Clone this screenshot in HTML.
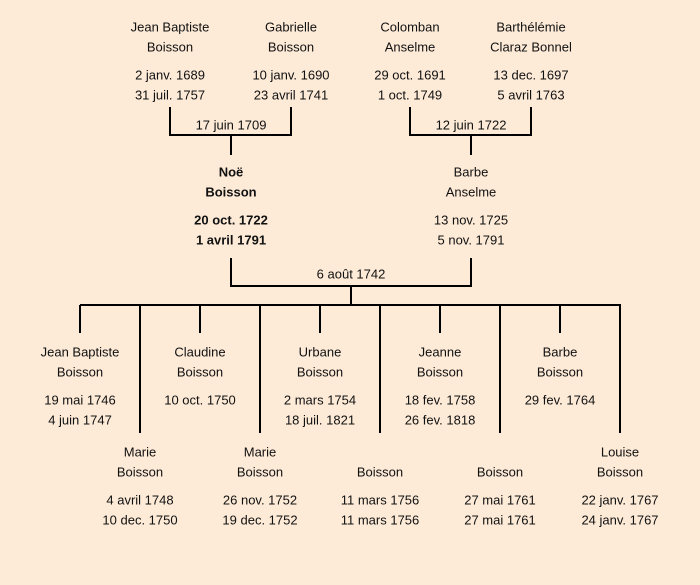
<!DOCTYPE html>
<html><head><meta charset="utf-8"><style>
html,body{margin:0;padding:0;background:#fdebd8;}
svg{display:block}
text{font-family:"Comic Sans MS","Liberation Sans",sans-serif;font-size:13px;fill:#111;text-anchor:middle;dominant-baseline:central}
.b{font-weight:bold}
</style></head><body>
<svg width="700" height="585" viewBox="0 0 700 585">
<rect width="700" height="585" fill="#fdebd8"/>
<g stroke="#000" stroke-width="2" fill="none">
<path d="M170 107V135H291V107M231 135V155"/>
<path d="M410 107V135H531V107M471 135V155"/>
<path d="M231 258V286H471V258M351 286V305"/>
<path d="M80 305H621"/>
<path d="M80 305V333M200 305V333M320 305V333M440 305V333M560 305V333"/>
<path d="M140 305V433M260 305V433M380 305V433M500 305V433M620 305V433"/>
</g>
<text x="170" y="27">Jean Baptiste</text><text x="170" y="47">Boisson</text><text x="170" y="75">2 janv. 1689</text><text x="170" y="95">31 juil. 1757</text>
<text x="291" y="27">Gabrielle</text><text x="291" y="47">Boisson</text><text x="291" y="75">10 janv. 1690</text><text x="291" y="95">23 avril 1741</text>
<text x="410" y="27">Colomban</text><text x="410" y="47">Anselme</text><text x="410" y="75">29 oct. 1691</text><text x="410" y="95">1 oct. 1749</text>
<text x="531" y="27">Barthélémie</text><text x="531" y="47">Claraz Bonnel</text><text x="531" y="75">13 dec. 1697</text><text x="531" y="95">5 avril 1763</text>
<text x="231" y="125">17 juin 1709</text><text x="471" y="125">12 juin 1722</text>
<text class="b" x="231" y="172">Noë</text><text class="b" x="231" y="192">Boisson</text><text class="b" x="231" y="220">20 oct. 1722</text><text class="b" x="231" y="240">1 avril 1791</text>
<text x="471" y="172">Barbe</text><text x="471" y="192">Anselme</text><text x="471" y="220">13 nov. 1725</text><text x="471" y="240">5 nov. 1791</text>
<text x="351" y="274">6 août 1742</text>
<text x="80" y="352">Jean Baptiste</text><text x="80" y="372">Boisson</text><text x="80" y="400">19 mai 1746</text><text x="80" y="420">4 juin 1747</text>
<text x="200" y="352">Claudine</text><text x="200" y="372">Boisson</text><text x="200" y="400">10 oct. 1750</text>
<text x="320" y="352">Urbane</text><text x="320" y="372">Boisson</text><text x="320" y="400">2 mars 1754</text><text x="320" y="420">18 juil. 1821</text>
<text x="440" y="352">Jeanne</text><text x="440" y="372">Boisson</text><text x="440" y="400">18 fev. 1758</text><text x="440" y="420">26 fev. 1818</text>
<text x="560" y="352">Barbe</text><text x="560" y="372">Boisson</text><text x="560" y="400">29 fev. 1764</text>
<text x="140" y="452">Marie</text><text x="140" y="472">Boisson</text><text x="140" y="500">4 avril 1748</text><text x="140" y="520">10 dec. 1750</text>
<text x="260" y="452">Marie</text><text x="260" y="472">Boisson</text><text x="260" y="500">26 nov. 1752</text><text x="260" y="520">19 dec. 1752</text>
<text x="380" y="472">Boisson</text><text x="380" y="500">11 mars 1756</text><text x="380" y="520">11 mars 1756</text>
<text x="500" y="472">Boisson</text><text x="500" y="500">27 mai 1761</text><text x="500" y="520">27 mai 1761</text>
<text x="620" y="452">Louise</text><text x="620" y="472">Boisson</text><text x="620" y="500">22 janv. 1767</text><text x="620" y="520">24 janv. 1767</text>
</svg>
</body></html>
